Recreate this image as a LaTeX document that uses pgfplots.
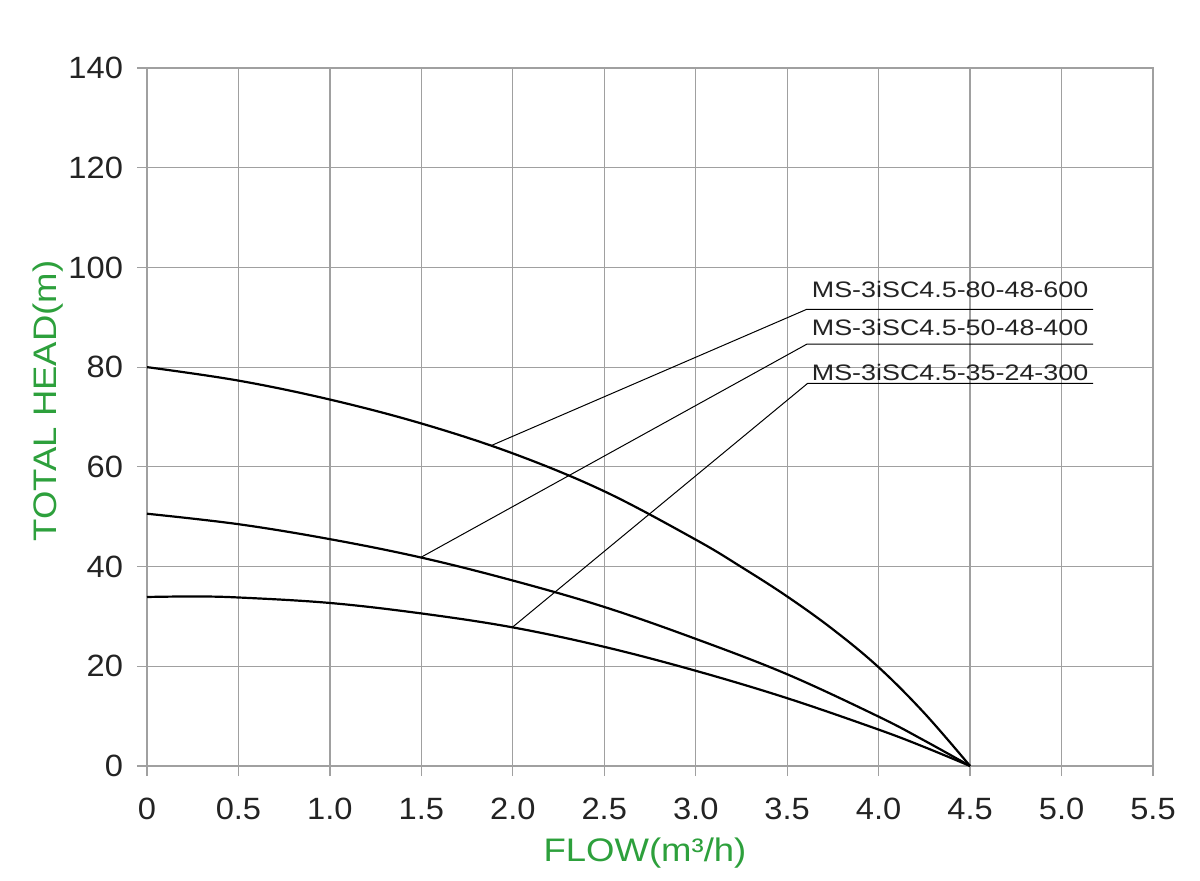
\documentclass[border=0pt]{standalone}
\usepackage{pgfplots}
\pgfplotsset{compat=1.18}
\usepackage{fontspec}
\setmainfont{Liberation Sans}
\newfontfamily\tickfont[FakeStretch=1.06]{Liberation Sans}
\newfontfamily\labfont[FakeStretch=1.12]{Liberation Sans}
\newfontfamily\annfont[FakeStretch=1.2]{Liberation Sans}
\definecolor{gridgray}{RGB}{160,160,160}
\definecolor{labgreen}{RGB}{45,160,60}
\definecolor{txt}{RGB}{35,35,35}
\begin{document}
\begin{tikzpicture}
\begin{axis}[
  width=503bp, height=349bp, scale only axis,
  xmin=0, xmax=5.5, ymin=0, ymax=140,
  xtick={0,0.5,1,1.5,2,2.5,3,3.5,4,4.5,5,5.5},
  xticklabels={0,0.5,1.0,1.5,2.0,2.5,3.0,3.5,4.0,4.5,5.0,5.5},
  ytick={0,20,40,60,80,100,120,140},
  yticklabels={0,20,40,60,80,100,120,140},
  grid=major,
  grid style={gridgray, line width=0.6bp},
  axis line style={gridgray, line width=0.6bp},
  tick style={gridgray, line width=0.6bp},
  tick align=outside, major tick length=5bp,
  xtick pos=bottom, ytick pos=left,
  ticklabel style={font={\tickfont\fontsize{15.4bp}{18bp}\selectfont}, text=txt},
  xticklabel style={yshift=-7.5bp},
  yticklabel style={xshift=-3.5bp},
  xlabel={FLOW(m³/h)},
  ylabel={TOTAL HEAD(m)},
  label style={font={\labfont\fontsize{16.3bp}{19bp}\selectfont}, text=labgreen},
  xlabel style={at={(axis description cs:0.495,-0.137)}, anchor=base},
  ylabel style={at={(axis description cs:-0.0895,0.523)}, anchor=base},
  clip=false,
]
% curves
\addplot[black, line width=1.1bp, smooth, tension=0.6] coordinates {
 (0,80) (0.5,77.3) (1,73.5) (1.5,68.7) (2,62.7) (2.5,55.1) (3,45.4)
 (3.25,39.9) (3.5,34.0) (3.75,27.4) (4,19.8) (4.25,10.6) (4.5,0)};
\addplot[black, line width=1.1bp, smooth, tension=0.6] coordinates {
 (0,50.6) (0.5,48.5) (1,45.5) (1.5,41.8) (2,37.2) (2.5,31.9) (3,25.5)
 (3.5,18.4) (4,9.9) (4.25,5.1) (4.5,0)};
\addplot[black, line width=1.1bp, smooth, tension=0.6] coordinates {
 (0,33.9) (0.25,34.0) (0.5,33.8) (1,32.7) (1.5,30.6) (2,27.8) (2.5,23.9)
 (3,19.1) (3.5,13.6) (4,7.3) (4.25,3.8) (4.5,0)};
% leader lines
\addplot[black, line width=0.5bp] coordinates {(1.884,64.3) (3.607,91.6) (5.172,91.6)};
\addplot[black, line width=0.5bp] coordinates {(1.5,41.9) (3.607,84.6) (5.172,84.6)};
\addplot[black, line width=0.5bp] coordinates {(2.0,27.9) (3.612,76.75) (5.172,76.75)};
\node[anchor=base west, inner sep=0pt, text=txt, font={\annfont\fontsize{11.2bp}{13bp}\selectfont}] at (axis cs:3.633,94.0) {MS-3iSC4.5-80-48-600};
\node[anchor=base west, inner sep=0pt, text=txt, font={\annfont\fontsize{11.2bp}{13bp}\selectfont}] at (axis cs:3.633,86.3) {MS-3iSC4.5-50-48-400};
\node[anchor=base west, inner sep=0pt, text=txt, font={\annfont\fontsize{11.2bp}{13bp}\selectfont}] at (axis cs:3.633,77.4) {MS-3iSC4.5-35-24-300};
\coordinate (SW) at (rel axis cs:0,0);
\coordinate (NE) at (rel axis cs:1,1);
\end{axis}
\path ([shift={(-73.5bp,-57.5bp)}]SW) rectangle ([shift={(23.5bp,34bp)}]NE);
\end{tikzpicture}
\end{document}
